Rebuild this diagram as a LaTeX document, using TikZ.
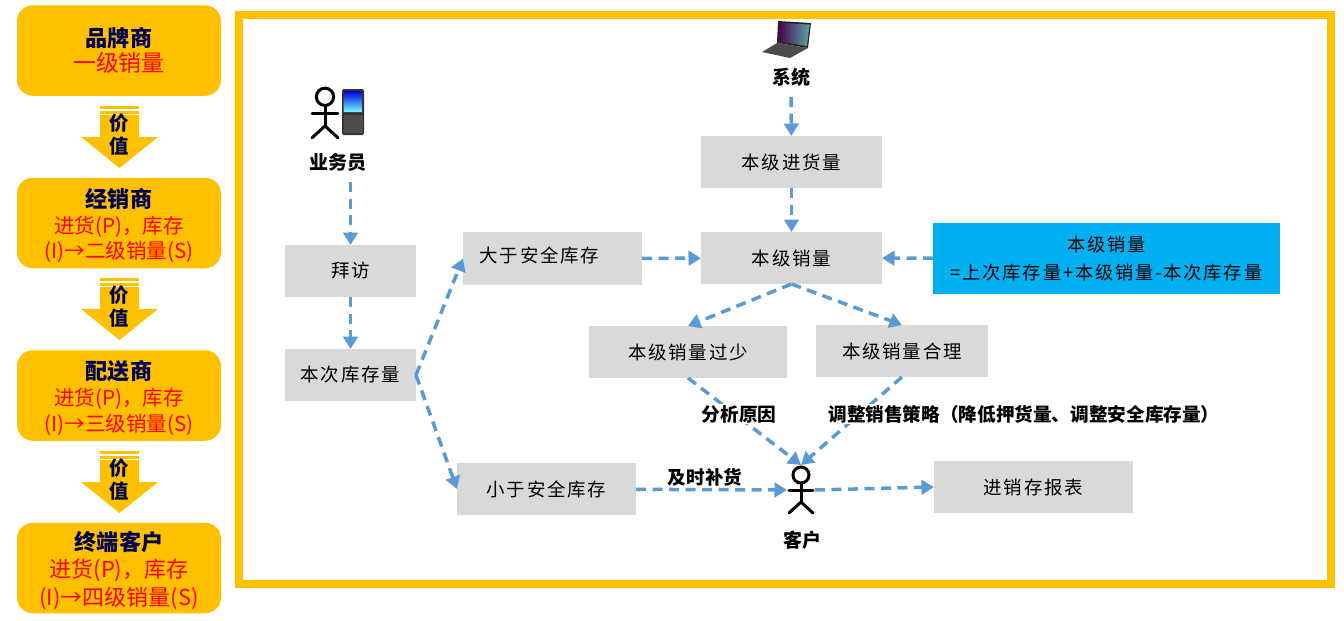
\documentclass[tikz,border=0pt]{standalone}
\usepackage{fontspec}
\setmainfont{Noto Sans CJK SC}
\newfontfamily\spacedfont[LetterSpace=10]{Noto Sans CJK SC}
\usetikzlibrary{arrows.meta,positioning}
\definecolor{GoldFill}{RGB}{255,192,0}
\definecolor{TitleNavy}{RGB}{0,0,80}
\definecolor{StepGray}{RGB}{217,217,217}
\definecolor{NoteBlue}{RGB}{0,176,240}
\definecolor{FlowBlue}{RGB}{91,155,213}
\newcommand{\boxtitle}[1]{{\fontsize{6.3}{7.3}\selectfont\bfseries\color{TitleNavy}#1}}
\newcommand{\lowtitle}[1]{\rule{0pt}{6.9pt}\boxtitle{#1}}
\tikzset{
  levelbox/.style={fill=GoldFill,rounded corners=0.16cm,minimum width=2.04cm,
    minimum height=0.905cm,align=center,inner sep=0pt,outer sep=0pt,text=red,
    font=\fontsize{5.85}{7.3}\selectfont},
  stepbox/.style={fill=StepGray,minimum height=0.52cm,align=center,inner sep=0pt,
    outer sep=0pt,font=\spacedfont\fontsize{5.25}{7}\selectfont},
  notebox/.style={fill=NoteBlue,minimum width=3.47cm,minimum height=0.71cm,align=center,
    inner sep=0pt,outer sep=0pt,font=\spacedfont\fontsize{5.2}{7.9}\selectfont},
  framebox/.style={draw=GoldFill,line width=0.08cm,minimum width=10.92cm,
    minimum height=5.69cm,inner sep=0pt},
  boldlabel/.style={font=\fontsize{5.4}{7}\selectfont\bfseries,inner sep=0pt,outer sep=0pt,
    minimum height=0.4cm},
  textlabel/.style={font=\fontsize{5.3}{7}\selectfont\bfseries,inner sep=0pt,outer sep=0pt,
    fill=white,minimum height=0.2cm},
  stickbox/.style={minimum width=0.28cm,minimum height=0.5cm,inner sep=0pt,outer sep=0pt},
  flow/.style={-{Triangle[length=0.125cm,width=0.145cm]},line width=0.035cm,FlowBlue,
    dash pattern=on 0.1cm off 0.065cm},
  stickman/.pic={
    \draw[line width=0.03cm,line cap=round] (0,0.15) circle (0.08);
    \draw[line width=0.03cm,line cap=round] (-0.12,0) -- (0.12,0);
    \draw[line width=0.03cm,line cap=round] (0,0.07) -- (0,-0.12);
    \draw[line width=0.03cm,line cap=round] (-0.12,-0.23) -- (0,-0.12) -- (0.12,-0.23);
  },
  valuearrow/.pic={
    \fill[GoldFill] (-0.195,0) rectangle (0.195,-0.03);
    \fill[GoldFill] (-0.195,-0.045) rectangle (0.195,-0.075);
    \fill[GoldFill] (-0.195,-0.09) -- (0.195,-0.09) -- (0.195,-0.31) -- (0.385,-0.31)
      -- (0,-0.62) -- (-0.385,-0.31) -- (-0.195,-0.31) -- cycle;
    \node[font=\fontsize{5.5}{6.4}\selectfont\bfseries,text=TitleNavy,align=center,inner sep=0pt]
      (-label) at (0,-0.285) {价\\值};
  }
}
\begin{document}
\begin{tikzpicture}
  \useasboundingbox (0,0) rectangle (13.44,-6.2);
  % left column
  \node[levelbox,font=\fontsize{6.5}{7.3}\selectfont] (brand) at (1.19,-0.505) {\boxtitle{品牌商}\\一级销量};
  \node[levelbox,below=0.82cm of brand] (dealer) {\lowtitle{经销商}\\进货(P)，库存\\(I)→二级销量(S)};
  \node[levelbox,below=0.82cm of dealer] (courier) {\lowtitle{配送商}\\进货(P)，库存\\(I)→三级销量(S)};
  \node[levelbox,below=0.82cm of courier,font=\fontsize{6.25}{7.7}\selectfont] (client) {\lowtitle{终端客户}\\进货(P)，库存\\(I)→四级销量(S)};
  \pic (valueA) at (1.195,-1.06) {valuearrow};
  \pic (valueB) at (1.195,-2.78) {valuearrow};
  \pic (valueC) at (1.195,-4.51) {valuearrow};

  % main frame
  \node[framebox] (frame) at (7.85,-2.995) {};
  \node[stepbox,minimum width=1.31cm] (visit) at (3.505,-2.71) {拜访};
  \node[stepbox,minimum width=1.31cm,below=0.52cm of visit] (store) {本次库存量};
  \node[stepbox,minimum width=1.79cm,minimum height=0.53cm] (big) at (5.525,-2.585) {\raisebox{0.07cm}{大于安全库存}\hspace{0.26cm}};
  \node[stepbox,minimum width=1.79cm] (small) at (5.465,-4.89) {小于安全库存};
  \node[stepbox,minimum width=1.81cm] (stock) at (7.915,-1.62) {本级进货量};
  \node[stepbox,minimum width=1.81cm,below=0.44cm of stock] (sales) {本级销量};
  \node[notebox] (note) at (11.065,-2.585) {本级销量\\=上次库存量+本级销量-本次库存量};
  \node[stepbox,minimum width=1.98cm] (few) at (6.88,-3.52) {本级销量过少};
  \node[stepbox,minimum width=1.72cm] (fair) at (9.02,-3.51) {本级销量合理};
  \node[stepbox,minimum width=1.99cm] (report) at (10.335,-4.87) {进销存报表};

  % people and devices
  \node[stickbox] (agent) at (3.25,-1.13) {};
  \pic[scale=1.08] at (agent) {stickman};
  \fill[black!80,rounded corners=0.02cm] (3.42,-0.89) rectangle (3.64,-1.35);
  \shade[top color=blue!85!black,bottom color=cyan!55,rounded corners=0.01cm] (3.435,-0.91) rectangle (3.625,-1.12);
  \fill[black!70] (3.435,-1.15) rectangle (3.625,-1.33);
  \fill[black!85] (7.78,-0.21) -- (8.11,-0.23) -- (8.08,-0.48) -- (7.77,-0.43) -- cycle;
  \shade[left color=violet!60!black,right color=cyan!30!gray] (7.795,-0.23) -- (8.095,-0.245) -- (8.07,-0.46) -- (7.785,-0.415) -- cycle;
  \fill[black!70] (7.77,-0.43) -- (8.08,-0.48) -- (7.9,-0.58) -- (7.62,-0.52) -- cycle;
  \node[stickbox] (cust) at (8.01,-4.9) {};
  \pic at (cust) {stickman};

  % labels
  \node[boldlabel] (agentlabel) at (3.38,-1.62) {业务员};
  \node[boldlabel] (systemlabel) at (7.91,-0.77) {系统};
  \node[boldlabel] (custlabel) at (8.02,-5.4) {客户};

  % connectors
  \draw[flow] (agentlabel.south -| visit.north) -- (visit.north);
  \draw[flow] (visit) -- (store);
  \draw[flow] (store.east) -- (big.west);
  \draw[flow] (store.east) -- (small.west);
  \draw[flow] (big) -- (sales);
  \draw[flow] (small) -- (cust);
  \draw[flow] (cust.east) -- (report.west);
  \draw[flow] (systemlabel) -- (stock);
  \draw[flow] (stock) -- (sales);
  \draw[flow] (note) -- (sales);
  \draw[flow] (sales.south) -- (few.north);
  \draw[flow] (sales.south) -- (fair.north);
  \draw[flow] (few.south) -- (cust.north);
  \draw[flow] (fair.south) -- (cust.north);

  \node[textlabel] (reason) at (7.39,-4.14) {分析原因};
  \node[textlabel] (adjust) at (10.24,-4.14) {调整销售策略（降低押货量、调整安全库存量）};
  \node[textlabel,fill=none] (restock) at (7.05,-4.77) {及时补货};
\end{tikzpicture}
\end{document}
